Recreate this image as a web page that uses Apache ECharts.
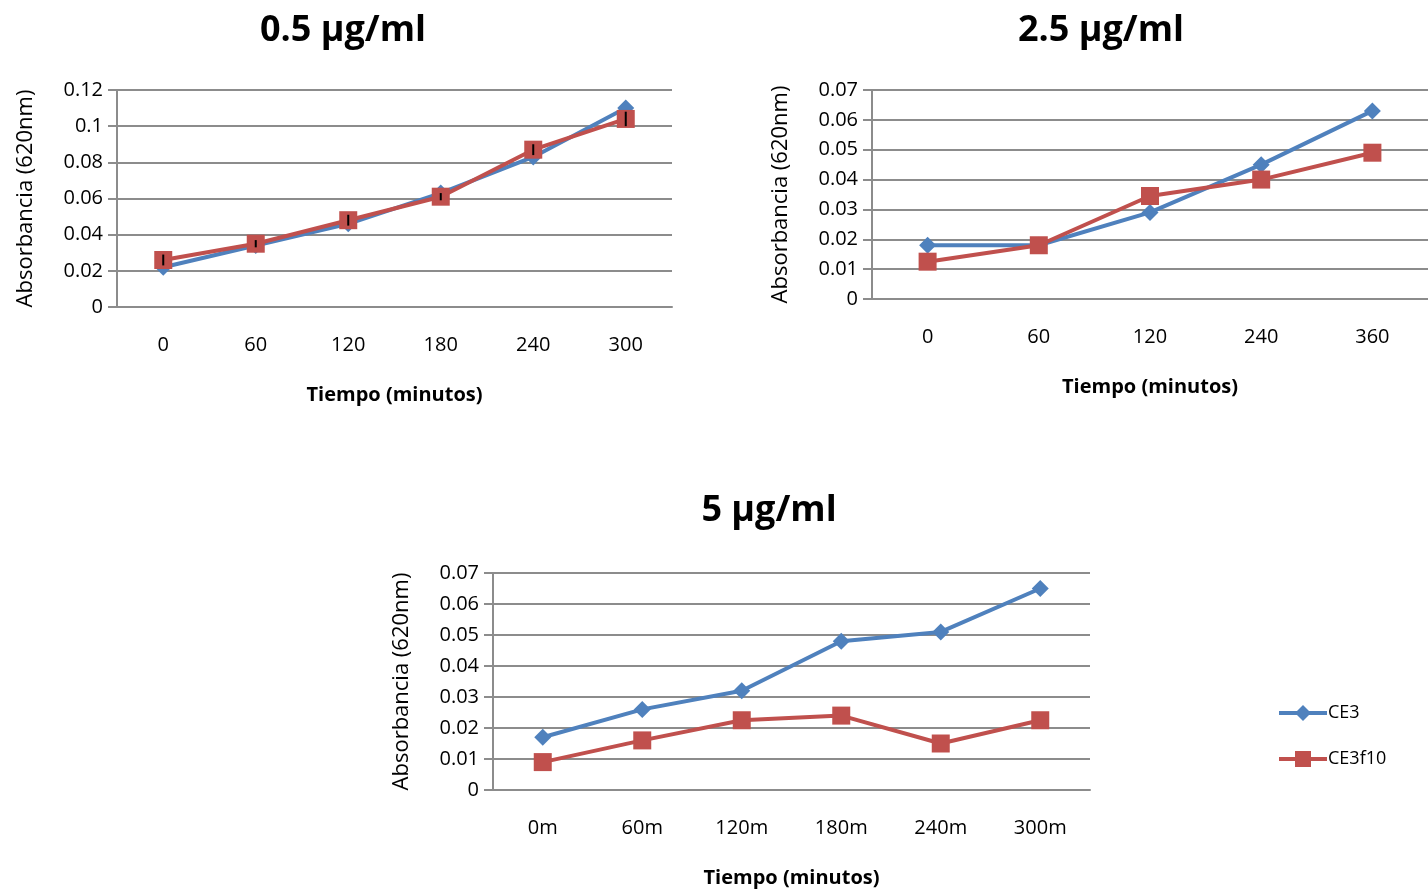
<!DOCTYPE html>
<html><head><meta charset="utf-8">
<script src="https://cdn.jsdelivr.net/npm/echarts@6/dist/echarts.min.js"></script>
<style>html,body{margin:0;padding:0;background:#fff}#c{width:1428px;height:895px}</style>
</head><body><div id="c"></div>
<script>
const titles = ['0.5 µg/ml', '2.5 µg/ml', '5 µg/ml'];
const cats1 = ['0', '60', '120', '180', '240', '300'];
const cats2 = ['0', '60', '120', '240', '360'];
const cats3 = ['0m', '60m', '120m', '180m', '240m', '300m'];
const ce3_1 = [0.022, 0.034, 0.046, 0.063, 0.083, 0.110];
const ce3f10_1 = [0.026, 0.035, 0.048, 0.061, 0.087, 0.104];
const err_1 = [0.003, 0.002, 0.003, 0.002, 0.003, 0.004];
const ce3_2 = [0.018, 0.018, 0.029, 0.045, 0.063];
const ce3f10_2 = [0.0125, 0.018, 0.0345, 0.040, 0.049];
const ce3_3 = [0.017, 0.026, 0.032, 0.048, 0.051, 0.065];
const ce3f10_3 = [0.009, 0.016, 0.0225, 0.024, 0.015, 0.0225];
const yMax = [0.12, 0.07, 0.07];
const yStep = [0.02, 0.01, 0.01];
const names = ['CE3', 'CE3f10'];

const BLUE = '#4F81BD', RED = '#C0504D', GRID = '#8c8c8c';
const FONT = 'Open Sans';
const chart = echarts.init(document.getElementById('c'));

const grids = [
  {left: 117, right: 756, top: 90, bottom: 588},
  {left: 872, right: 0, top: 90, bottom: 596},
  {left: 493, right: 338, top: 573, bottom: 105}
];
const titlePos = [{x: 338, y: 8}, {x: 1096, y: 8}, {x: 764, y: 488}];
const cats = [cats1, cats2, cats3];
const ce3 = [ce3_1, ce3_2, ce3_3];
const ce3f10 = [ce3f10_1, ce3f10_2, ce3f10_3];

const xAxes = cats.map((c, i) => ({
  type: 'category', gridIndex: i, data: c, boundaryGap: true,
  axisLine: {show: true, lineStyle: {color: GRID, width: 2}},
  axisTick: {show: false},
  axisLabel: {color: '#000', fontFamily: FONT, fontSize: 20, margin: 28},
  name: 'Tiempo (minutos)', nameLocation: 'middle', nameGap: 78,
  nameTextStyle: {color: '#000', fontFamily: FONT, fontSize: 20, fontWeight: 'bold'}
}));
const yAxes = yMax.map((m, i) => ({
  type: 'value', gridIndex: i, min: 0, max: m, interval: yStep[i],
  axisLine: {show: true, lineStyle: {color: GRID, width: 2}},
  axisTick: {show: true, length: 9, lineStyle: {color: GRID, width: 2}},
  splitLine: {show: true, lineStyle: {color: GRID, width: 2}},
  axisLabel: {color: '#000', fontFamily: FONT, fontSize: 20, margin: 14},
  name: 'Absorbancia (620nm)', nameLocation: 'middle', nameGap: 80,
  nameTextStyle: {color: '#000', fontFamily: FONT, fontSize: 22}
}));

const series = [];
for (let i = 0; i < 3; i++) {
  series.push({
    name: names[0], type: 'line', xAxisIndex: i, yAxisIndex: i, data: ce3[i],
    symbol: 'diamond', symbolSize: 17, color: BLUE,
    lineStyle: {color: BLUE, width: 4}, itemStyle: {color: BLUE}, z: 2
  });
  series.push({
    name: names[1], type: 'line', xAxisIndex: i, yAxisIndex: i, data: ce3f10[i],
    symbol: 'rect', symbolSize: 18, color: RED,
    lineStyle: {color: RED, width: 4}, itemStyle: {color: RED}, z: 3
  });
}
series.push({
  type: 'custom', xAxisIndex: 0, yAxisIndex: 0, z: 5, silent: true,
  data: ce3f10_1.map((v, k) => [k, v, err_1[k]]),
  renderItem: function (params, api) {
    const x = api.value(0), v = api.value(1), e = api.value(2);
    const p1 = api.coord([x, v - e]), p2 = api.coord([x, v + e]);
    return {type: 'line', shape: {x1: p1[0], y1: p1[1], x2: p2[0], y2: p2[1]},
      style: {stroke: '#000', lineWidth: 2}};
  }
});

chart.setOption({
  animation: false,
  title: titles.map((t, i) => ({
    text: t, left: titlePos[i].x, top: titlePos[i].y, textAlign: 'center',
    textStyle: {color: '#000', fontFamily: FONT, fontSize: 36, fontWeight: 'bold'}
  })),
  legend: {
    data: names, orient: 'vertical', left: 1277, top: 704, itemGap: 28, padding: 0,
    itemWidth: 48, itemHeight: 20,
    lineStyle: {width: 4},
    textStyle: {color: '#000', fontFamily: FONT, fontSize: 18, padding: [0, 0, 0, -4]}
  },
  grid: grids,
  xAxis: xAxes,
  yAxis: yAxes,
  series: series
});
</script></body></html>
